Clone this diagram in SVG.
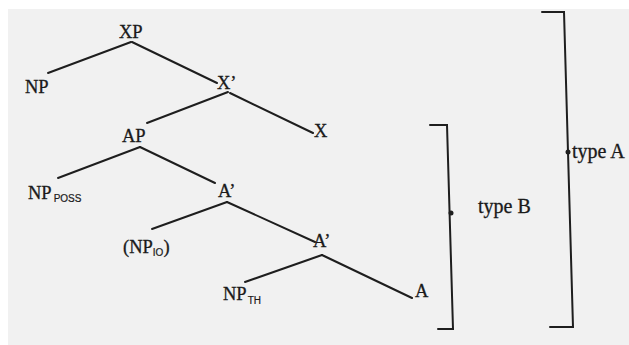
<svg xmlns="http://www.w3.org/2000/svg" width="629" height="345" viewBox="0 0 629 345">
<style>
.l{stroke:#1e1e1e;stroke-width:2;fill:none;stroke-linecap:round}
.t{font-family:"Liberation Serif","Times New Roman",serif;font-size:18.5px;fill:#1a1a1a;stroke:#1a1a1a;stroke-width:0.3}
.s{font-family:"Liberation Sans",Arial,sans-serif;font-size:10px;stroke-width:0.2}
.ty{font-size:20px}
</style>
<rect width="629" height="345" fill="#ffffff"/>
<rect x="8" y="9" width="621" height="336" fill="#f1f1f1"/>
<g id="connectors">
<line class="l" x1="131" y1="42" x2="48" y2="73"/>
<line class="l" x1="132" y1="42" x2="217" y2="83"/>
<line class="l" x1="228" y1="92" x2="147" y2="123"/>
<line class="l" x1="230" y1="93" x2="313" y2="133"/>
<line class="l" x1="140" y1="147" x2="58" y2="178"/>
<line class="l" x1="140" y1="147" x2="215" y2="183"/>
<line class="l" x1="227" y1="202" x2="152" y2="229"/>
<line class="l" x1="227" y1="202" x2="315" y2="242"/>
<line class="l" x1="322" y1="255" x2="245" y2="282"/>
<line class="l" x1="322" y1="255" x2="412" y2="298"/>
</g>
<g id="XP"><text class="t" x="119" y="38">XP</text></g>
<g id="NP"><text class="t" x="25" y="93">NP</text></g>
<g id="Xbar"><text class="t" x="217" y="89">X’</text></g>
<g id="X"><text class="t" x="314" y="137">X</text></g>
<g id="AP"><text class="t" x="122" y="142">AP</text></g>
<g id="NPposs"><text class="t" x="28" y="199">NP<tspan class="s" dx="2" dy="3">POSS</tspan></text></g>
<g id="Abar1"><text class="t" x="218" y="197">A’</text></g>
<g id="NPio"><text class="t" x="123" y="253">(NP<tspan class="s" dy="3">IO</tspan><tspan dy="-3">)</tspan></text></g>
<g id="Abar2"><text class="t" x="313" y="247">A’</text></g>
<g id="NPth"><text class="t" x="223" y="300">NP<tspan class="s" dx="1" dy="4">TH</tspan></text></g>
<g id="A"><text class="t" x="415" y="297">A</text></g>
<g id="bracketB">
<polyline class="l" points="430,125 447,125 453,329 438,329"/>
<circle cx="451" cy="213" r="2.5" fill="#1e1e1e"/>
<text class="t ty" x="478" y="213">type B</text>
</g>
<g id="bracketA">
<polyline class="l" points="542,12 564,12 573,327 550,327"/>
<circle cx="568" cy="152" r="2.5" fill="#1e1e1e"/>
<text class="t ty" x="572" y="158">type A</text>
</g>
</svg>
